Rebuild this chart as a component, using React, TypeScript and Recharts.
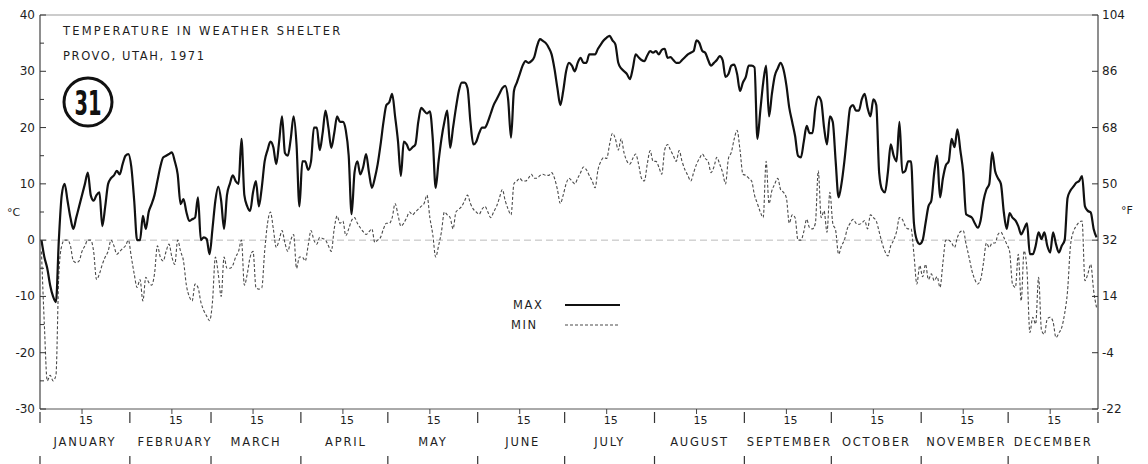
import React from 'react'
import {
  LineChart,
  Line,
  XAxis,
  YAxis,
  ReferenceLine,
} from 'recharts'

// daily max / min, °C
const janMax = [0, -3, -5, -8, -10, -11, 0, 8, 10, 7, 4, 2, 4, 6, 8, 10, 12, 8, 7, 8, 8.5, 2.5, 6, 10, 11, 11.5, 12.3, 11.7, 13.5, 15, 15.3]
const febMax = [13, 7, 0, 0, 4.3, 2, 5, 6.4, 8, 10.5, 13, 14.7, 15, 15.3, 15.6, 14, 11.7, 6.4, 7.3, 5, 3.4, 3.7, 4, 7.6, 0, 0.5, 0.2, -2.5]
const marMax = [2, 7, 9.5, 7, 2, 8, 10, 11.5, 10.5, 10, 18, 8, 6, 5.2, 8.5, 10.5, 6, 9.3, 14, 16, 17.5, 16.5, 13.5, 17.5, 22, 15.5, 15, 18, 22, 17, 6]
const aprMax = [14, 14, 12.5, 14, 20, 20, 16, 19, 23, 20, 16.4, 19, 22, 21, 21, 19.5, 15, 4.6, 12, 14, 11.7, 13, 15.3, 12, 9.3, 11, 13.5, 17, 21, 24]
const mayMax = [24.5, 26, 22, 17.6, 11.4, 17.5, 17, 16, 16.5, 17, 21, 23.5, 23, 22.5, 22.9, 18, 9.3, 14, 18, 21, 23, 16.4, 20, 23.5, 26.5, 28, 28, 27, 21, 17, 17.5]
const junMax = [19, 20, 20, 21, 22.5, 24, 25, 26, 27, 27.4, 25, 18.2, 26.5, 28, 29.5, 31, 31.8, 31.5, 31.8, 32.5, 34.5, 35.7, 35.4, 35, 34.2, 33, 30.4, 27, 24, 26.5]
const julMax = [30, 31.5, 31, 30, 31.5, 32.4, 31.5, 31.5, 33, 33, 33, 34, 34.8, 35.5, 36, 36.3, 35.5, 34.8, 31.5, 30.5, 30, 29.5, 28.6, 30.5, 33, 32.5, 32, 31.8, 32.8, 33.6, 33.3]
const augMax = [33.6, 33, 33.8, 34, 32.4, 32.5, 32, 31.5, 31.5, 32, 32.5, 33, 33.3, 33.6, 35.5, 35, 33.6, 33.3, 32, 31, 31.5, 32, 32.7, 32, 29, 29.5, 31, 31.2, 29.5, 26.5, 28]
const sepMax = [29, 31, 31, 30.7, 18, 23, 28, 31, 22, 26, 29.2, 30.5, 31.5, 30.3, 27.5, 23.5, 21, 18.5, 15, 14.7, 17.5, 20.3, 19, 19, 23.5, 25.5, 24.7, 20, 17, 22]
const octMax = [21, 14, 7.6, 10, 14, 19, 23.5, 24, 23, 23, 25, 26, 23.5, 22, 25, 24, 12, 9, 8.5, 12, 17, 15, 14, 21, 12, 12.3, 14, 14, 3, 0, -0.7]
const novMax = [0, 3, 6, 7, 12, 15, 7.6, 11, 13.3, 14, 18, 16.5, 19.7, 16, 12, 4.6, 4.3, 4, 3, 2.2, 3.5, 7, 9, 10, 15.6, 12.3, 11, 10, 5, 2]
const decMax = [4.8, 4, 3.5, 2.5, 1, 2, 3, -2.5, -2.5, -1, 1.4, 0.2, 1.4, -1, -2.2, 1.4, -0.7, -2.2, -1, 0, 7.5, 8.8, 9.5, 10.2, 10.5, 11.4, 6, 5.2, 4.9, 2, 0.5]

const janMin = [-2, -15, -25, -24, -25, -24, -6, -1, 0, 0, -1, -3.7, -4, -3.7, -2, -1, 0, 0, -2, -7, -6, -4.3, -3, -2, 0, -1, -2.5, -2, -1.5, -1, 0]
const febMin = [-3, -6, -8.4, -7, -10.8, -6.6, -7.5, -8, -6, -1, -3, -3.7, -2, -0.7, -3, -4.3, 0, -2, -3.7, -8, -10, -10.8, -7.8, -8.4, -11, -12.5, -13.5, -14.3]
const marMin = [-11, -3, -6, -10, -3, -5, -5, -4.5, -3, -2, 0, -8, -6, -3, -2, -8.4, -8.7, -8.5, -2, 3, 5, 2, -1.3, 0, 1.7, -0.5, -2, 0, 1, -5, -3]
const aprMin = [-3, -3.7, -1, 1.7, 0, -0.7, 0.5, 0.3, 0, -1, -2, 2, 4.3, 3, 3.4, 0.8, 2, 3.5, 4, 3, 2.2, 1.5, 1, 1.5, 2, -0.4, 0, 0.5, 2, 3]
const mayMin = [3, 4, 6.5, 4.5, 2.5, 3, 4, 5, 4.5, 5, 5.5, 6, 6.5, 8, 4, 1, -3, -1, 1.5, 5, 4.5, 4, 2, 5, 5.5, 6, 7, 8, 6.5, 5.5, 5]
const junMin = [4.6, 5.5, 6, 5, 4, 5, 6, 7.5, 9, 7, 5.5, 4.5, 10, 10.5, 11, 10.5, 10.5, 11, 11.7, 11, 11, 11.5, 11.7, 11.5, 11.5, 12, 11, 9, 6.5, 8]
const julMin = [10, 11, 10.5, 10, 11, 12, 13, 12.5, 11.5, 10.5, 9.3, 12.5, 14, 14.7, 14.5, 17, 19, 18, 16, 18, 15.5, 14, 13.5, 14.5, 15.3, 13.5, 11, 10.5, 13.5, 15.9, 14]
const augMin = [14, 13, 11.7, 16, 17, 16, 15, 14, 15.9, 14, 12.5, 11.5, 10.5, 12, 13.5, 14.5, 15.3, 14.5, 14, 12, 13, 14.7, 13.5, 12, 10, 14.5, 15.6, 18, 19.5, 16, 11.7]
const sepMin = [11.5, 11, 10.5, 8, 6.5, 5, 4, 14, 6.5, 8.8, 10, 11, 9, 8.5, 7.5, 3, 4.5, 4, 0, 0, 1.5, 3.7, 2.2, 2, 3, 12.3, 4, 5.2, 1.4, 8.5]
const octMin = [3, 1.7, -2.5, -1, 0, 2, 3, 3.7, 3, 2.8, 3, 3.5, 2, 4.5, 4, 3.4, 1.5, -0.5, -2, -2.8, -1, 0, 1.5, 4, 3.7, 2.5, 2, 2, -2.5, -7.8, -4.5]
const novMin = [-6.5, -4.3, -7, -6, -7.2, -6.5, -8.4, -4, 0, 0, -0.5, -1.3, 0.5, 1.5, 1.7, -0.7, -3, -5.4, -7, -7.8, -7, -4, -0.5, -1.3, -0.5, -0.5, 1, 1.4, 0.5, -0.7]
const decMin = [-2, -7.8, -8.4, -2.5, -10.8, -1.9, -5.4, -16.4, -13.7, -14.9, -6.6, -16, -16.7, -14, -13.7, -14.5, -17.3, -16.5, -15.5, -13, -9, -1, 1.5, 2.5, 3.2, 3.4, -7.2, -6, -4.3, -9, -12]

const monthNames = ['JANUARY', 'FEBRUARY', 'MARCH', 'APRIL', 'MAY', 'JUNE', 'JULY', 'AUGUST', 'SEPTEMBER', 'OCTOBER', 'NOVEMBER', 'DECEMBER']
const maxByMonth = [janMax, febMax, marMax, aprMax, mayMax, junMax, julMax, augMax, sepMax, octMax, novMax, decMax]
const minByMonth = [janMin, febMin, marMin, aprMin, mayMin, junMin, julMin, augMin, sepMin, octMin, novMin, decMin]

const celsiusTicks = [-30, -25, -20, -15, -10, -5, 0, 5, 10, 15, 20, 25, 30, 35, 40]
const fahrenheitTicks = [-30, -20, -10, 0, 10, 20, 30, 40]

// month starts and the 15th of each month, in day units
const monthStarts: number[] = []
const rows: { t: number; max: number; min: number }[] = []
let dayCount = 0
maxByMonth.forEach((vals, m) => {
  monthStarts.push(dayCount)
  vals.forEach((v, i) => {
    rows.push({ t: dayCount + i + 0.5, max: v, min: minByMonth[m][i] })
  })
  dayCount += vals.length
})
monthStarts.push(dayCount)
const midTicks = monthStarts.slice(0, 12).map((s) => s + 14.5)
const xTicks = [...monthStarts, ...midTicks]

const font = '"DejaVu Sans", Verdana, sans-serif'
const ink = '#1e1e1e'

const BottomTick = (props: any) => {
  const { x, y, payload } = props
  const v = payload.value
  const mi = midTicks.indexOf(v)
  if (mi >= 0) {
    return (
      <g>
        <line x1={x} x2={x} y1={y} y2={y + 5} stroke="#444" strokeWidth={1} />
        <text x={x + 4} y={y + 15} textAnchor="middle" fontSize={11} fontFamily={font} fill={ink}>
          15
        </text>
        <text x={x + 3} y={y + 37} textAnchor="middle" fontSize={11.5} fontFamily={font} fill={ink} letterSpacing={1.8}>
          {monthNames[mi]}
        </text>
      </g>
    )
  }
  return (
    <g>
      <line x1={x} x2={x} y1={y + 3} y2={y + 14} stroke="#333" strokeWidth={1.2} />
      <line x1={x} x2={x} y1={y + 47} y2={y + 55} stroke="#333" strokeWidth={1.2} />
    </g>
  )
}

const LeftTick = (props: any) => {
  const { x, y, payload } = props
  const v = payload.value
  const major = v % 10 === 0
  return (
    <g>
      <line x1={x} x2={x + (major ? 6 : 4)} y1={y} y2={y} stroke="#333" strokeWidth={1} />
      {major && (
        <text x={x - 5} y={y + 4} textAnchor="end" fontSize={12} fontFamily={font} fill={ink}>
          {v}
        </text>
      )}
    </g>
  )
}

const RightTick = (props: any) => {
  const { x, y, payload } = props
  const f = Math.round(payload.value * 1.8 + 32)
  return (
    <g>
      <line x1={x - 6} x2={x} y1={y} y2={y} stroke="#333" strokeWidth={1} />
      <text x={x + 4} y={y + 4} textAnchor="start" fontSize={12} fontFamily={font} fill={ink}>
        {f}
      </text>
    </g>
  )
}

export default function App() {
  return (
    <div style={{ position: 'absolute', left: 0, top: 0, width: 1148, height: 464, background: '#fff' }}>
      <LineChart
        width={1148}
        height={464}
        data={rows}
        margin={{ top: 15, right: 0, bottom: 0, left: 0 }}
      >
        <XAxis
          dataKey="t"
          type="number"
          domain={[0, 365]}
          ticks={xTicks}
          interval={0}
          height={55}
          tickSize={0}
          tickMargin={0}
          tickLine={false}
          axisLine={{ stroke: '#555', strokeWidth: 1 }}
          tick={<BottomTick />}
        />
        <YAxis
          yAxisId="c"
          type="number"
          domain={[-30, 40]}
          ticks={celsiusTicks}
          interval={0}
          width={40}
          tickSize={0}
          tickMargin={0}
          tickLine={false}
          axisLine={{ stroke: '#444', strokeWidth: 1.2 }}
          tick={<LeftTick />}
        />
        <YAxis
          yAxisId="f"
          orientation="right"
          type="number"
          domain={[-30, 40]}
          allowDataOverflow
          ticks={fahrenheitTicks}
          interval={0}
          width={50}
          tickSize={0}
          tickMargin={0}
          tickLine={false}
          axisLine={{ stroke: '#444', strokeWidth: 1.2 }}
          tick={<RightTick />}
        />
        <ReferenceLine yAxisId="c" y={40} stroke="#999" strokeWidth={1} />
        <ReferenceLine yAxisId="c" y={0} stroke="#bbb" strokeWidth={1} strokeDasharray="7 4" />
        {/* same max series on the °F scale, not stroked, so the right axis has data */}
        <Line
          yAxisId="f"
          dataKey="max"
          type="monotone"
          stroke="none"
          dot={false}
          activeDot={false}
          isAnimationActive={false}
        />
        <Line
          yAxisId="c"
          dataKey="min"
          type="monotone"
          stroke="#4a4a4a"
          strokeWidth={1.1}
          strokeDasharray="3 2"
          dot={false}
          isAnimationActive={false}
        />
        <Line
          yAxisId="c"
          dataKey="max"
          type="monotone"
          stroke="#111"
          strokeWidth={2.2}
          dot={false}
          isAnimationActive={false}
        />
      </LineChart>
      <svg
        width={1148}
        height={464}
        style={{ position: 'absolute', left: 0, top: 0, pointerEvents: 'none' }}
      >
        <g fontFamily={font} fill={ink} fontSize={11.5} letterSpacing={1.6}>
          <text x={63} y={35} letterSpacing={2.2}>TEMPERATURE IN WEATHER SHELTER</text>
          <text x={63} y={60}>PROVO, UTAH,  1971</text>
          <text x={7} y={216} fontSize={11} letterSpacing={0}>°C</text>
          <text x={1121} y={214} fontSize={11} letterSpacing={0}>°F</text>
          <text x={513} y={309}>MAX</text>
          <text x={511} y={329}>MIN</text>
        </g>
        <circle cx={88} cy={102} r={24} fill="none" stroke="#111" strokeWidth={3} />
        <text
          x={88}
          y={115}
          textAnchor="middle"
          fontFamily='"DejaVu Sans Condensed", "Liberation Sans Narrow", sans-serif'
          fontWeight="bold"
          fontSize={34}
          textLength={27}
          lengthAdjust="spacingAndGlyphs"
          fill="#111"
        >
          31
        </text>
        <line x1={565} x2={620} y1={305} y2={305} stroke="#111" strokeWidth={2} />
        <line x1={565} x2={620} y1={325} y2={325} stroke="#4a4a4a" strokeWidth={1.1} strokeDasharray="3 2" />
      </svg>
    </div>
  )
}
